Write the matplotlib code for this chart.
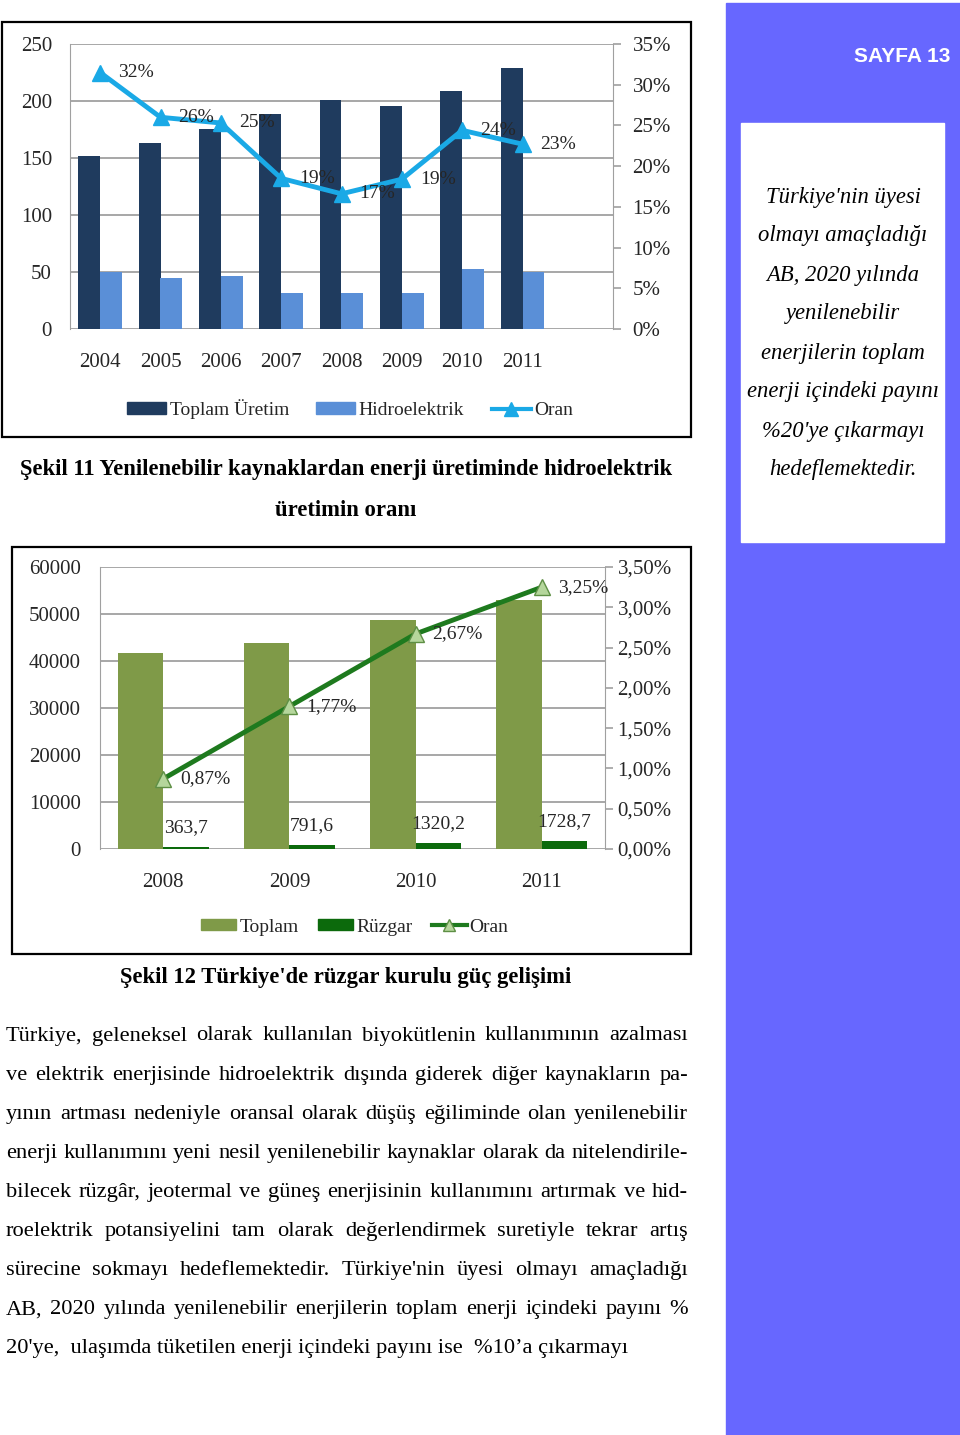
import numpy as np
import matplotlib
matplotlib.use('Agg')
import matplotlib.pyplot as plt
from matplotlib.patches import Rectangle, Patch
from matplotlib.lines import Line2D

plt.rcParams['font.family'] = ['Liberation Serif', 'DejaVu Serif']

# Chart 1 data (Şekil 11)
years1 = ['2004', '2005', '2006', '2007', '2008', '2009', '2010', '2011']
toplam_uretim = [152, 163, 175, 189, 201, 195.5, 209, 229]
hidroelektrik = [50, 45, 46.3, 31.5, 31.5, 31.5, 52.7, 50]
oran1 = [31.5, 26.0, 25.3, 18.5, 16.6, 18.4, 24.4, 22.7]
oran1_labels = ['32%', '26%', '25%', '19%', '17%', '19%', '24%', '23%']

# Chart 2 data (Şekil 12)
years2 = ['2008', '2009', '2010', '2011']
toplam_guc = [41800, 43800, 48800, 52900]
ruzgar = [363.7, 791.6, 1320.2, 1728.7]
oran2 = [0.87, 1.77, 2.67, 3.25]

caption11 = ['Şekil 11 Yenilenebilir kaynaklardan enerji üretiminde hidroelektrik',
             'üretimin oranı']
caption12 = "Şekil 12 Türkiye'de rüzgar kurulu güç gelişimi"
side_lines = ["Türkiye'nin üyesi", 'olmayı amaçladığı', 'AB, 2020 yılında',
              'yenilenebilir', 'enerjilerin toplam', 'enerji içindeki payını',
              "%20'ye çıkarmayı", 'hedeflemektedir.']
body_lines = [
    'Türkiye, geleneksel olarak kullanılan biyokütlenin kullanımının azalması',
    've elektrik enerjisinde hidroelektrik dışında giderek diğer kaynakların pa-',
    'yının artması nedeniyle oransal olarak düşüş eğiliminde olan yenilenebilir',
    'enerji kullanımını yeni nesil yenilenebilir kaynaklar olarak da nitelendirile-',
    'bilecek rüzgâr, jeotermal ve güneş enerjisinin kullanımını artırmak ve hid-',
    'roelektrik potansiyelini tam olarak değerlendirmek suretiyle tekrar artış',
    "sürecine sokmayı hedeflemektedir. Türkiye'nin üyesi olmayı amaçladığı",
    'AB, 2020 yılında yenilenebilir enerjilerin toplam enerji içindeki payını %',
    "20'ye,  ulaşımda tüketilen enerji içindeki payını ise  %10’a çıkarmayı",
]

W, H = 960, 1435
fig = plt.figure(figsize=(W / 100, H / 100), dpi=100)
page = fig.add_axes([0, 0, 1, 1])
page.set_xlim(0, W)
page.set_ylim(H, 0)
page.axis('off')


def px_axes(x0, y0, x1, y1):
    return fig.add_axes([x0 / W, 1 - y1 / H, (x1 - x0) / W, (y1 - y0) / H])


# sidebar
page.add_patch(Rectangle((726, 3), 234, 1432, color='#6767FF'))
page.add_patch(Rectangle((741, 123), 203, 419, color='white'))
page.text(950, 57, 'SAYFA 13', color='white', fontsize=15, fontweight='bold',
          family='Liberation Sans', ha='right', va='center')
for i, s in enumerate(side_lines):
    page.text(843, 197 + 39 * i, s, fontsize=16.3, style='italic',
              ha='center', va='center')

# chart frames
page.add_patch(Rectangle((2, 22), 689, 415, fill=False, ec='black', lw=1.6))
page.add_patch(Rectangle((12, 547), 679, 407, fill=False, ec='black', lw=1.6))

grid_c = '#A0A0A0'
txt_c = '#262626'
tick_fs = 15

# ---- Chart 1 ----
ax1 = px_axes(70, 44, 613, 329)
x = np.arange(len(years1))
bw = 0.36
ax1.bar(x - bw / 2, toplam_uretim, bw, color='#1F3B5E', zorder=2)
ax1.bar(x + bw / 2, hidroelektrik, bw, color='#5A8FD7', zorder=2)
ax1.set_xlim(-0.5, 8.5)
ax1.set_ylim(0, 250)
ax1.set_yticks(range(0, 251, 50))
ax1.set_xticks(x, years1)
ax1.grid(axis='y', color=grid_c, lw=1.3)
ax1.set_axisbelow(True)
for s in ['top', 'bottom', 'right']:
    ax1.spines[s].set_visible(False)
ax1.spines['left'].set_color(grid_c)
ax1.tick_params(axis='y', length=0, pad=13, labelsize=tick_fs, labelcolor=txt_c)
ax1.tick_params(axis='x', length=0, pad=17, labelsize=tick_fs, labelcolor=txt_c)

ax1b = ax1.twinx()
ax1b.plot(x, oran1, color='#1AA9E6', lw=3.5, marker='^', ms=11, zorder=3)
ax1b.set_ylim(0, 35)
ax1b.set_yticks(range(0, 36, 5), [f'{v}%' for v in range(0, 36, 5)])
for s in ['top', 'bottom', 'left']:
    ax1b.spines[s].set_visible(False)
ax1b.spines['right'].set_color(grid_c)
ax1b.tick_params(axis='y', length=6, width=1.2, color=grid_c, pad=8,
                 labelsize=tick_fs, labelcolor=txt_c)
for xi, yi, lab in zip(x, oran1, oran1_labels):
    ax1b.annotate(lab, (xi, yi), xytext=(13, 0), textcoords='offset points',
                  ha='left', va='center', fontsize=14, color=txt_c)

fig.legend([Patch(color='#1F3B5E'), Patch(color='#5A8FD7'),
            Line2D([], [], color='#1AA9E6', lw=3, marker='^', ms=10)],
           ['Toplam Üretim', 'Hidroelektrik', 'Oran'],
           loc='center', bbox_to_anchor=(350 / W, 1 - 409 / H), ncol=3,
           frameon=False, fontsize=14, handlelength=2.0, handleheight=0.55,
           handletextpad=0.2, columnspacing=1.4, labelcolor=txt_c)

for i, s in enumerate(caption11):
    page.text(346, 470 + 40 * i, s, fontsize=16.3, fontweight='bold',
              ha='center', va='center')

# ---- Chart 2 ----
ax2 = px_axes(100, 567, 605, 849)
x2 = np.arange(len(years2))
ax2.bar(x2 - bw / 2, toplam_guc, bw, color='#7F9A48', zorder=2)
ax2.bar(x2 + bw / 2, ruzgar, bw, color='#0C6A0C', zorder=2)
ax2.set_xlim(-0.5, 3.5)
ax2.set_ylim(0, 60000)
ax2.set_yticks(range(0, 60001, 10000))
ax2.set_xticks(x2, years2)
ax2.grid(axis='y', color=grid_c, lw=1.3)
ax2.set_axisbelow(True)
for s in ['top', 'bottom', 'right']:
    ax2.spines[s].set_visible(False)
ax2.spines['left'].set_color(grid_c)
ax2.tick_params(axis='y', length=0, pad=14, labelsize=tick_fs, labelcolor=txt_c)
ax2.tick_params(axis='x', length=0, pad=17, labelsize=tick_fs, labelcolor=txt_c)
for xi, v in zip(x2, ruzgar):
    ax2.annotate(f'{v:.1f}'.replace('.', ','), (xi + bw / 2, v), xytext=(0, 14),
                 textcoords='offset points', ha='center', va='center',
                 fontsize=14, color=txt_c)

ax2b = ax2.twinx()
ax2b.plot(x2, oran2, color='#1E7A1E', lw=3.5, zorder=3, marker='^', ms=12,
          mfc='#B5D69C', mec='#5E8F45', mew=1)
ax2b.set_ylim(0, 3.5)
ticks2 = np.arange(0, 3.51, 0.5)
ax2b.set_yticks(ticks2, [f'{v:.2f}%'.replace('.', ',') for v in ticks2])
for s in ['top', 'bottom', 'left']:
    ax2b.spines[s].set_visible(False)
ax2b.spines['right'].set_color(grid_c)
ax2b.tick_params(axis='y', length=6, width=1.2, color=grid_c, pad=3,
                 labelsize=tick_fs, labelcolor=txt_c)
for xi, v in zip(x2, oran2):
    ax2b.annotate(f'{v:.2f}%'.replace('.', ','), (xi, v), xytext=(12, 0),
                  textcoords='offset points', ha='left', va='center',
                  fontsize=14, color=txt_c)

fig.legend([Patch(color='#7F9A48'), Patch(color='#0C6A0C'),
            Line2D([], [], color='#1E7A1E', lw=3, marker='^', ms=9,
                   mfc='#B5D69C', mec='#5E8F45')],
           ['Toplam', 'Rüzgar', 'Oran'],
           loc='center', bbox_to_anchor=(355 / W, 1 - 927 / H), ncol=3,
           frameon=False, fontsize=14, handlelength=1.8, handleheight=0.55,
           handletextpad=0.15, columnspacing=1.0, labelcolor=txt_c)

page.text(346, 977, caption12, fontsize=16.3, fontweight='bold',
          ha='center', va='center')

# ---- body text, justified ----
renderer = fig.canvas.get_renderer()
body_fs = 16.1
x_left, x_right = 6, 688
for i, line in enumerate(body_lines):
    y = 1036 + 39.1 * i
    if i == len(body_lines) - 1:
        page.text(x_left, y, line, fontsize=body_fs, ha='left', va='center')
        continue
    words = line.split()
    ts = [page.text(0, y, w, fontsize=body_fs, ha='left', va='center') for w in words]
    widths = [t.get_window_extent(renderer).width for t in ts]
    gap = (x_right - x_left - sum(widths)) / (len(words) - 1)
    cx = x_left
    for t, w in zip(ts, widths):
        t.set_x(cx)
        cx += w + gap

fig.savefig('out.png', dpi=100)
